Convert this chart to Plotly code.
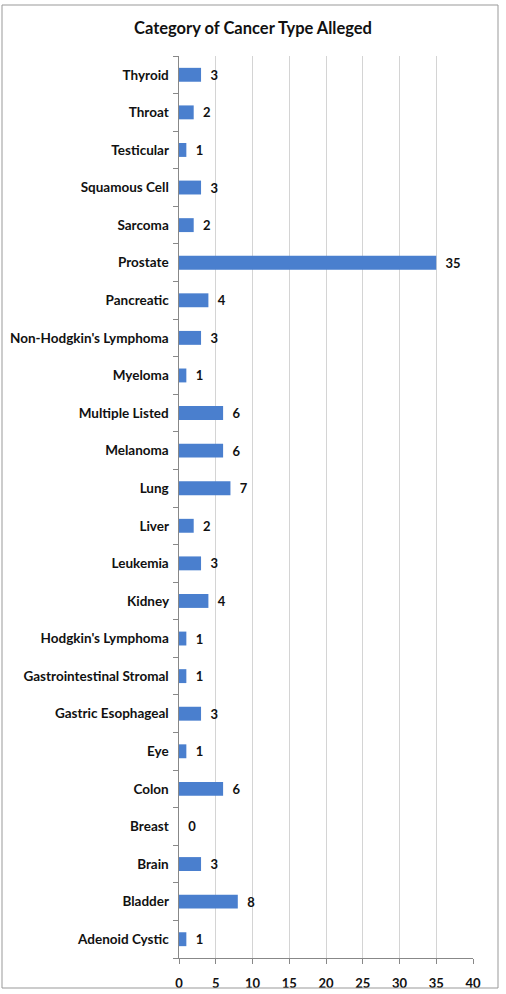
import plotly.graph_objects as go

categories = ["Adenoid Cystic", "Bladder", "Brain", "Breast", "Colon", "Eye",
              "Gastric Esophageal", "Gastrointestinal Stromal", "Hodgkin's Lymphoma",
              "Kidney", "Leukemia", "Liver", "Lung", "Melanoma", "Multiple Listed",
              "Myeloma", "Non-Hodgkin's Lymphoma", "Pancreatic", "Prostate", "Sarcoma",
              "Squamous Cell", "Testicular", "Throat", "Thyroid"]
counts = [1, 8, 3, 0, 6, 1, 3, 1, 1, 4, 3, 2, 7, 6, 6, 1, 3, 4, 35, 2, 3, 1, 2, 3]
x_ticks = [0, 5, 10, 15, 20, 25, 30, 35, 40]
title = "Category of Cancer Type Alleged"

W, H = 506, 994
L, R, T, B = 179, 33, 56, 36
pw, ph = W - L - R, H - T - B

def px(x):
    return (x - L) / pw

def py(y):
    return (H - B - y) / ph

font = "Lato"

fig = go.Figure(go.Bar(
    x=counts, y=categories, orientation="h",
    marker=dict(color="#4a7fce", line=dict(width=0)),
    text=["  " + str(c) for c in counts], textposition="outside",
    constraintext="none",
    textfont=dict(family=font, size=13, color="#111111", weight="bold"),
    cliponaxis=False,
))

fig.update_layout(
    width=W, height=H,
    margin=dict(l=L, r=R, t=T, b=B),
    paper_bgcolor="white", plot_bgcolor="white",
    bargap=0.63,
    showlegend=False,
    title=dict(text=title, x=0.5, xanchor="center", y=1 - 28 / H, yanchor="middle",
               font=dict(family=font, size=16.5, color="#111111", weight="bold")),
    xaxis=dict(range=[0, 40], tickvals=x_ticks, showgrid=True, gridcolor="#d4d4d4",
               gridwidth=1, ticks="outside", ticklen=5, tickcolor="#888888",
               ticklabelstandoff=8, automargin=False,
               showline=True, linecolor="#888888", zeroline=False,
               tickfont=dict(family=font, size=13, color="#111111", weight="bold")),
    yaxis=dict(type="category", categoryorder="array", categoryarray=categories,
               automargin=False,
               showline=True, linecolor="#888888", ticks="outside", tickson="boundaries",
               ticklen=5, tickcolor="#888888", showgrid=False, ticksuffix="  ",
               tickfont=dict(family=font, size=13.5, color="#111111", weight="bold")),
    shapes=[dict(type="rect", xref="paper", yref="paper",
                 x0=px(2), x1=px(498), y0=py(988), y1=py(5),
                 line=dict(color="#999999", width=1), fillcolor="rgba(0,0,0,0)")],
)

fig.write_html("out.html")
